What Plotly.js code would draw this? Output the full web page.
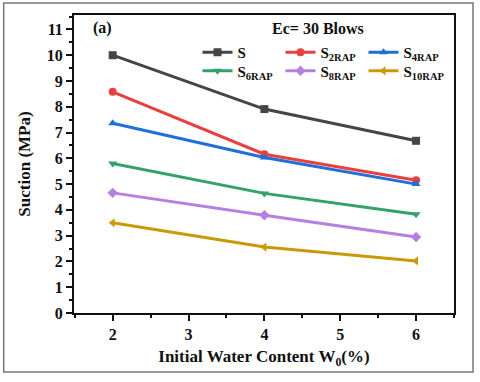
<!DOCTYPE html>
<html>
<head>
<meta charset="utf-8">
<script src="https://cdn.plot.ly/plotly-3.0.1.min.js"></script>
<style>
  html, body { margin: 0; padding: 0; background: #fff; }
  #chart { width: 480px; height: 382px; }
</style>
</head>
<body>
<div id="chart"></div>
<script>
var waterContent = [2, 4, 6];
var sS      = [10.0, 7.91, 6.68];
var s2RAP   = [8.58, 6.16, 5.15];
var s4RAP   = [7.36, 6.03, 5.0];
var s6RAP   = [5.8, 4.64, 3.83];
var s8RAP   = [4.66, 3.79, 2.95];
var s10RAP  = [3.5, 2.56, 2.02];

var names   = ['S', 'S<sub>2RAP</sub>', 'S<sub>4RAP</sub>', 'S<sub>6RAP</sub>', 'S<sub>8RAP</sub>', 'S<sub>10RAP</sub>'];
var series  = [sS, s2RAP, s4RAP, s6RAP, s8RAP, s10RAP];
var colors  = ['#454545', '#e8403c', '#1e6fd9', '#34a267', '#b57fe3', '#c99a06'];
var symbols = ['square', 'circle', 'triangle-up', 'triangle-down', 'diamond', 'triangle-left'];

var data = series.map(function(ys, i){
  return {
    x: waterContent,
    y: ys,
    name: names[i],
    legend: i < 3 ? 'legend' : 'legend2',
    type: 'scatter',
    mode: 'lines+markers',
    line: {color: colors[i], width: 3},
    marker: {color: colors[i], symbol: symbols[i], size: 8}
  };
});

var fam = "'Liberation Serif', 'Times New Roman', serif";
var bold = function(size){ return {family: fam, size: size, color: '#111', weight: 'bold'}; };

var legendBase = function(y){
  return {
    orientation: 'h',
    x: 0.325, y: y,
    xanchor: 'left', yanchor: 'middle',
    entrywidth: 38, entrywidthmode: 'pixels',
    bgcolor: 'rgba(0,0,0,0)',
    font: bold(15)
  };
};

var axisBase = function(){
  return {
    ticks: 'outside', ticklen: 6, tickwidth: 2, tickcolor: '#111',
    minor: {dtick: 0.5, ticks: 'outside', ticklen: 3, tickwidth: 2, tickcolor: '#111'},
    showline: true, linewidth: 2, linecolor: '#111', mirror: true,
    showgrid: false, zeroline: false,
    tickfont: bold(16)
  };
};

var xaxis = axisBase();
xaxis.range = [1.49, 6.5];
xaxis.tickvals = [2, 3, 4, 5, 6];
xaxis.title = {text: 'Initial Water Content W<sub>0</sub>(%)', standoff: 8, font: bold(17)};

var yaxis = axisBase();
yaxis.range = [0, 11.56];
yaxis.tickvals = [0, 1, 2, 3, 4, 5, 6, 7, 8, 9, 10, 11];
yaxis.title = {text: 'Suction (MPa)', standoff: 12, font: bold(17)};

var layout = {
  width: 480,
  height: 382,
  margin: {l: 74, r: 26, t: 15, b: 69},
  paper_bgcolor: '#fff',
  plot_bgcolor: '#fff',
  font: {family: fam, size: 14, color: '#111'},
  showlegend: true,
  legend: legendBase(0.874),
  legend2: legendBase(0.812),
  xaxis: xaxis,
  yaxis: yaxis,
  annotations: [
    {text: '(a)', xref: 'paper', yref: 'paper', x: 0.045, y: 0.956, xanchor: 'left', yanchor: 'middle',
     showarrow: false, font: bold(16)},
    {text: 'Ec= 30 Blows', xref: 'paper', yref: 'paper', x: 0.642, y: 0.956, xanchor: 'center', yanchor: 'middle',
     showarrow: false, font: bold(16)}
  ],
  shapes: [
    {type: 'rect', xref: 'paper', yref: 'paper', x0: -0.185, x1: 1.05, y0: -0.198, y1: 1.04,
     line: {color: '#777', width: 1.5}, fillcolor: 'rgba(0,0,0,0)', layer: 'below'}
  ]
};

Plotly.newPlot('chart', data, layout, {displayModeBar: false, staticPlot: true});
</script>
</body>
</html>
